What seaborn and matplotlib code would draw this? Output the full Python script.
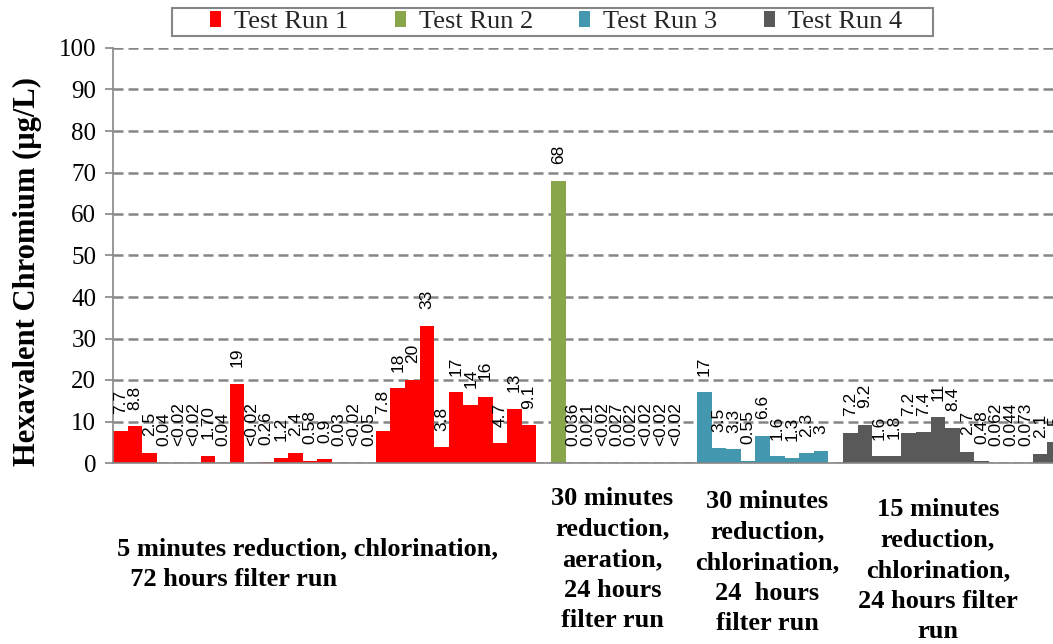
import matplotlib
matplotlib.use("Agg")
import matplotlib.pyplot as plt
import matplotlib.transforms as mtransforms
from matplotlib.patches import Rectangle
import pandas as pd
import seaborn as sns

# Hexavalent chromium results (µg/L) for each sample of the four test runs
runs = ["Test Run 1", "Test Run 2", "Test Run 3", "Test Run 4"]
run1_labels = ["7.7", "8.8", "2.5", "0.04", "<0.02", "<0.02", "1.70", "0.04", "19",
               "<0.02", "0.26", "1.2", "2.4", "0.58", "0.9", "0.03", "<0.02", "0.05",
               "7.8", "18", "20", "33", "3.8", "17", "14", "16", "4.7", "13", "9.1"]
run2_labels = ["68", "0.036", "0.021", "<0.02", "0.027", "0.022", "<0.02", "<0.02", "<0.02"]
run3_labels = ["17", "3.5", "3.3", "0.55", "6.6", "1.6", "1.3", "2.3", "3"]
run4_labels = ["7.2", "9.2", "1.6", "1.8", "7.2", "7.4", "11", "8.4", "2.7", "0.48",
               "0.062", "0.044", "0.073", "2.1", "5"]
run_labels = [run1_labels, run2_labels, run3_labels, run4_labels]

captions = [
    "5 minutes reduction, chlorination,\n  72 hours filter run",
    "30 minutes\nreduction,\naeration,\n24 hours\nfilter run",
    "30 minutes\nreduction,\nchlorination,\n24  hours\nfilter run",
    "15 minutes\nreduction,\nchlorination,\n24 hours filter\nrun",
]
y_ticks = list(range(0, 101, 10))

colors = ["#FF0000", "#8AA64B", "#4397AF", "#595959"]

# one slot per sample, with an empty slot separating consecutive runs
rows = []
slot = 0
for run, labels in zip(runs, run_labels):
    for lab in labels:
        rows.append({"slot": slot, "value": float(lab.lstrip("<")), "label": lab, "run": run})
        slot += 1
    slot += 1
df = pd.DataFrame(rows)

sns.set_theme(style="white")
plt.rcParams["font.family"] = ["Liberation Serif", "DejaVu Serif"]

W, H = 1053, 644
fig = plt.figure(figsize=(W / 100, H / 100), dpi=100)
ax = fig.add_axes([113 / W, 1 - 463 / H, 1 - 113 / W, 415 / H])

sns.barplot(data=df, x="slot", y="value", hue="run", hue_order=runs, palette=colors,
            saturation=1, dodge=False, native_scale=True, width=1.0, errorbar=None,
            linewidth=0, legend=False, ax=ax)

ax.set_xlim(-0.5, 63.88)
ax.set_ylim(0, 100)
ax.set_yticks(y_ticks)
ax.set_xticks([])
ax.set_xlabel("")
ax.set_ylabel("")
ax.set_axisbelow(True)
ax.yaxis.grid(True, color="#868686", linestyle=(0, (4, 2)), linewidth=1.8)
ax.tick_params(axis="y", length=6, width=1.2, color="#868686", labelsize=18,
               pad=6, labelcolor="black", left=True)
for side in ["top", "right"]:
    ax.spines[side].set_visible(False)
for side in ["left", "bottom"]:
    ax.spines[side].set_color("#868686")
    ax.spines[side].set_linewidth(1.2)

# value labels above each bar
for r in df.itertuples():
    ax.annotate(r.label, xy=(r.slot, r.value), xytext=(0, 12), textcoords="offset points",
                rotation=90, ha="center", va="bottom", fontsize=12.5,
                family=["Liberation Sans", "DejaVu Sans"], color="black",
                annotation_clip=False)

# run captions below the axis
trans = mtransforms.blended_transform_factory(ax.transData, fig.transFigure)
caption_x = [-0.25, 33.7, 44.3, 56.0]
caption_top = [537, 487, 490, 498]
for i, (txt, x, top) in enumerate(zip(captions, caption_x, caption_top)):
    ha = "left" if i == 0 else "center"
    ax.text(x, 1 - top / H, txt, transform=trans, ha=ha, va="top", multialignment=ha,
            fontsize=19, fontweight="bold", linespacing=1.42, color="black", clip_on=False)

fig.text(27 / W, 1 - 272 / H, "Hexavalent Chromium (µg/L)", rotation=90, ha="center",
         va="center", fontsize=22, fontweight="bold", color="black")

# legend across the top
handles = [Rectangle((0, 0), 1, 1, facecolor=c, edgecolor="none") for c in colors]
fig.legend(handles, runs, loc="center", bbox_to_anchor=(556 / W, 1 - 22 / H), ncol=4,
           frameon=False, fontsize=19, handlelength=0.42, handleheight=0.55,
           handletextpad=0.5, columnspacing=1.75, borderpad=0.1)
fig.add_artist(Rectangle((172 / W, 1 - 36 / H), 761 / W, 28 / H, transform=fig.transFigure,
                         fill=False, edgecolor="#868686", linewidth=1.5))

fig.savefig("out.png", dpi=100)
